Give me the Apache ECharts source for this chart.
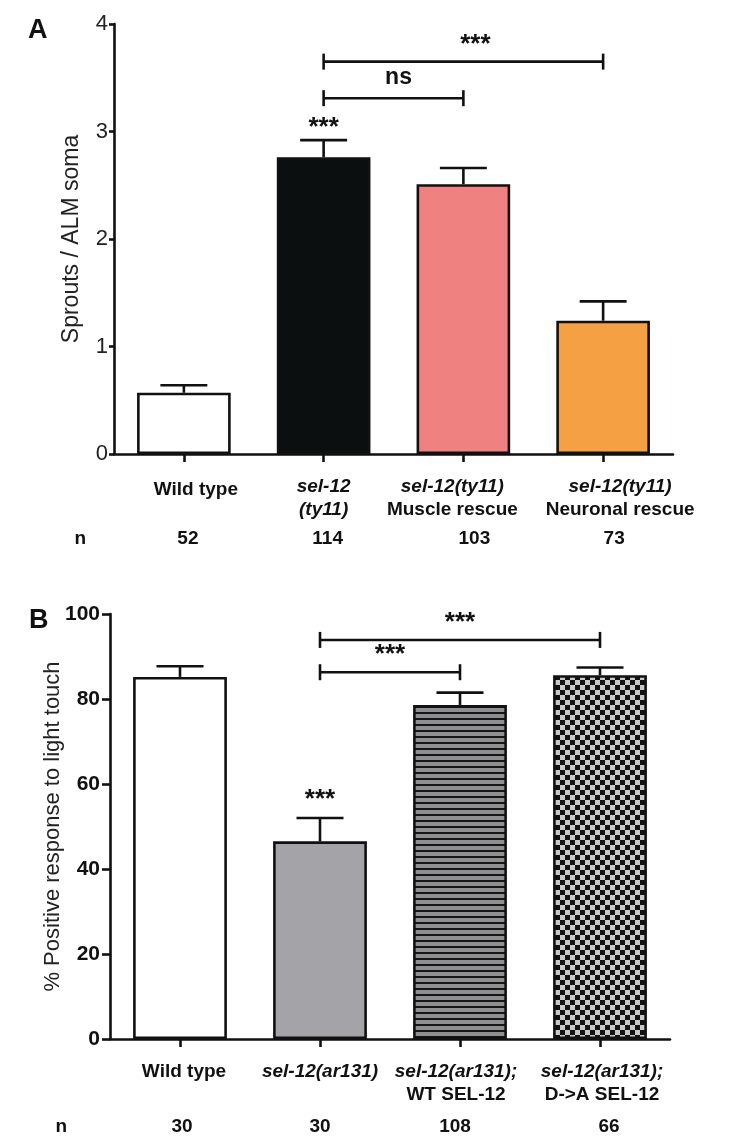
<!DOCTYPE html>
<html><head><meta charset="utf-8">
<script src="https://cdn.jsdelivr.net/npm/echarts@6/dist/echarts.min.js"></script>
<style>html,body{margin:0;padding:0;background:#fff}#c{width:734px;height:1145px}</style>
</head><body><div id="c"></div>
<script>
// ---------- DATA ----------
const categoriesA = ['Wild type', 'sel-12\n(ty11)', 'sel-12(ty11)\nMuscle rescue', 'sel-12(ty11)\nNeuronal rescue'];
const meansA = [0.57, 2.76, 2.51, 1.24];
const semA = [0.07, 0.16, 0.15, 0.18];
const nA = [52, 114, 103, 73];
const starsA = ['', '***', '', ''];
const bracketsA = [[1, 3, 3.65, '***'], [1, 2, 3.31, 'ns']];
const yTicksA = [0, 1, 2, 3, 4];
const yNameA = 'Sprouts / ALM soma';

const categoriesB = ['Wild type', 'sel-12(ar131)', 'sel-12(ar131);\nWT SEL-12', 'sel-12(ar131);\nD->A SEL-12'];
const meansB = [85.2, 46.5, 78.6, 85.6];
const semB = [2.5, 5.5, 2.9, 1.8];
const nB = [30, 30, 108, 66];
const starsB = ['', '***', '', ''];
const bracketsB = [[1, 3, 93.9, '***'], [1, 2, 86.3, '***']];
const yTicksB = [0, 20, 40, 60, 80, 100];
const yNameB = '% Positive response to light touch';

// ---------- STYLE ----------
const FONT = "'Liberation Sans', Arial, Helvetica, sans-serif";
const INK = '#111';
const labelShiftA = [12, 0, -11, 17];
const labelDropA = [6, 0, 0, 0];
const nShiftA = [4, 4, 11, 11];
const labelShiftB = [4, 0, -4, 2];
const labelDropB = [0, 0, 0, 0];
const nShiftB = [2, 0, -5, 9];
const bracketTextShiftA = [12, 5];
const bracketTextShiftB = [0, 0];

function stripes() {
  const c = document.createElement('canvas'); c.width = 8; c.height = 6;
  const g = c.getContext('2d');
  g.fillStyle = '#8f8f92'; g.fillRect(0, 0, 8, 6);
  g.fillStyle = '#161616'; g.fillRect(0, 4, 8, 2);
  return c;
}
function checker() {
  const c = document.createElement('canvas'); c.width = 10; c.height = 10;
  const g = c.getContext('2d');
  g.fillStyle = '#c9c9c9'; g.fillRect(0, 0, 10, 10);
  g.fillStyle = '#121212'; g.fillRect(0, 0, 5, 5); g.fillRect(5, 5, 5, 5);
  return c;
}
const colorsA = ['#ffffff', '#0b0f0f', '#ef8181', '#f5a143'];
const colorsB = ['#ffffff', '#a4a4a8', { image: stripes(), repeat: 'repeat' }, { image: checker(), repeat: 'repeat' }];

function pad(shift, drop) {
  return [drop || 0, shift < 0 ? -2 * shift : 0, 0, shift > 0 ? 2 * shift : 0];
}
function catRich(shifts, drops, size, lh) {
  const r = {};
  shifts.forEach((s, k) => {
    r['i' + k] = { fontFamily: FONT, fontSize: size, fontWeight: 'bold', fontStyle: 'italic', color: INK, lineHeight: lh, padding: pad(s, drops[k]) };
    r['b' + k] = { fontFamily: FONT, fontSize: size, fontWeight: 'bold', color: INK, lineHeight: lh, padding: pad(s, drops[k]) };
  });
  return r;
}
function catFmt(value, idx) {
  return value.split('\n').map(l => '{' + (/sel-12|\(ty11\)/.test(l) ? 'i' : 'b') + idx + '|' + l + '}').join('\n');
}
function nRich(shifts, size) {
  const r = {};
  shifts.forEach((s, k) => { r['n' + k] = { fontFamily: FONT, fontSize: size, fontWeight: 'bold', color: INK, padding: pad(s, 0) }; });
  return r;
}
function nFmt(value, idx) { return '{n' + idx + '|' + value + '}'; }

function errRender(stars, starGap) {
  return function (params, api) {
    const x = api.value(0);
    const p0 = api.coord([x, api.value(1)]);
    const p1 = api.coord([x, api.value(2)]);
    const half = api.size([1, 0])[0] * 0.168;
    const st = { stroke: INK, lineWidth: 2.6 };
    const ch = [
      { type: 'line', shape: { x1: p0[0], y1: p0[1], x2: p1[0], y2: p1[1] }, style: st },
      { type: 'line', shape: { x1: p1[0] - half, y1: p1[1], x2: p1[0] + half, y2: p1[1] }, style: st }
    ];
    const s = stars[params.dataIndex];
    if (s) ch.push({ type: 'text', style: { text: s, x: p1[0], y: p1[1] - starGap, align: 'center', verticalAlign: 'middle', font: 'bold 26px ' + FONT, fill: INK } });
    return { type: 'group', children: ch };
  };
}
function bracketRender(brackets, textShift) {
  return function (params, api) {
    const b = brackets[params.dataIndex];
    const a = api.coord([b[0], b[2]]);
    const c = api.coord([b[1], b[2]]);
    const st = { stroke: INK, lineWidth: 2.6 };
    const isStar = b[3].indexOf('*') >= 0;
    return { type: 'group', children: [
      { type: 'line', shape: { x1: a[0], y1: a[1], x2: c[0], y2: c[1] }, style: st },
      { type: 'line', shape: { x1: a[0], y1: a[1] - 8, x2: a[0], y2: a[1] + 8 }, style: st },
      { type: 'line', shape: { x1: c[0], y1: c[1] - 8, x2: c[0], y2: c[1] + 8 }, style: st },
      { type: 'text', style: { text: b[3], x: (a[0] + c[0]) / 2 + textShift[params.dataIndex], y: a[1] - (isStar ? 17 : 21), align: 'center', verticalAlign: 'middle', font: 'bold ' + (isStar ? 26 : 23) + 'px ' + FONT, fill: INK } }
    ] };
  };
}

const axisLine = { show: true, lineStyle: { color: INK, width: 2.6 } };

const option = {
  animation: false,
  backgroundColor: '#ffffff',
  graphic: [
    { type: 'text', left: 28, top: 17, style: { text: 'A', font: 'bold 27px ' + FONT, fill: INK } },
    { type: 'text', left: 29, top: 607, style: { text: 'B', font: 'bold 27px ' + FONT, fill: INK } }
  ],
  grid: [
    { left: 114, right: 61, top: 24, height: 430 },
    { left: 110, right: 64, top: 614, height: 425 }
  ],
  xAxis: [
    { gridIndex: 0, type: 'category', data: categoriesA, axisLine: axisLine,
      axisTick: { show: true, alignWithLabel: true, length: 8, lineStyle: { color: INK, width: 2.6 } },
      axisLabel: { interval: 0, margin: 21, formatter: catFmt, rich: catRich(labelShiftA, labelDropA, 19, 23) } },
    { gridIndex: 0, type: 'category', data: nA.map(String), position: 'bottom', offset: 85,
      axisLine: { show: false }, axisTick: { show: false },
      axisLabel: { interval: 0, margin: 0, verticalAlign: 'middle', formatter: nFmt, rich: nRich(nShiftA, 19) },
      name: 'n', nameLocation: 'start', nameGap: 28, nameMoveOverlap: false,
      nameTextStyle: { fontFamily: FONT, fontSize: 19, fontWeight: 'bold', color: INK, verticalAlign: 'middle' } },
    { gridIndex: 1, type: 'category', data: categoriesB, axisLine: axisLine,
      axisTick: { show: true, alignWithLabel: true, length: 8, lineStyle: { color: INK, width: 2.6 } },
      axisLabel: { interval: 0, margin: 21, formatter: catFmt, rich: catRich(labelShiftB, labelDropB, 19, 23) } },
    { gridIndex: 1, type: 'category', data: nB.map(String), position: 'bottom', offset: 88,
      axisLine: { show: false }, axisTick: { show: false },
      axisLabel: { interval: 0, margin: 0, verticalAlign: 'middle', formatter: nFmt, rich: nRich(nShiftB, 19) },
      name: 'n', nameLocation: 'start', nameGap: 43, nameMoveOverlap: false,
      nameTextStyle: { fontFamily: FONT, fontSize: 19, fontWeight: 'bold', color: INK, verticalAlign: 'middle' } }
  ],
  yAxis: [
    { gridIndex: 0, type: 'value', min: yTicksA[0], max: yTicksA[yTicksA.length - 1], interval: yTicksA[1] - yTicksA[0],
      splitLine: { show: false }, axisLine: axisLine,
      axisTick: { show: true, length: 5, lineStyle: { color: INK, width: 2.6 } },
      axisLabel: { margin: 6, fontFamily: FONT, fontSize: 22, color: '#222' },
      name: yNameA, nameLocation: 'middle', nameRotate: 90, nameGap: 31, nameMoveOverlap: false,
      nameTextStyle: { fontFamily: FONT, fontSize: 23, color: '#222' } },
    { gridIndex: 1, type: 'value', min: yTicksB[0], max: yTicksB[yTicksB.length - 1], interval: yTicksB[1] - yTicksB[0],
      splitLine: { show: false }, axisLine: axisLine,
      axisTick: { show: true, length: 8, lineStyle: { color: INK, width: 2.6 } },
      axisLabel: { margin: 10, fontFamily: FONT, fontSize: 21, fontWeight: 'bold', color: INK },
      name: yNameB, nameLocation: 'middle', nameRotate: 90, nameGap: 46, nameMoveOverlap: false,
      nameTextStyle: { fontFamily: FONT, fontSize: 22, color: '#222' } }
  ],
  series: [
    { type: 'bar', xAxisIndex: 0, yAxisIndex: 0, barWidth: '67%',
      data: meansA.map((v, i) => ({ value: v, itemStyle: { color: colorsA[i] } })),
      itemStyle: { borderColor: INK, borderWidth: 2.6 } },
    { type: 'custom', xAxisIndex: 0, yAxisIndex: 0, z: 5, clip: false,
      data: meansA.map((m, i) => [i, m, m + semA[i]]), renderItem: errRender(starsA, 12) },
    { type: 'custom', xAxisIndex: 0, yAxisIndex: 0, z: 5, clip: false,
      data: bracketsA.map(b => [b[0], b[1], b[2]]), encode: { x: [0, 1], y: 2 }, renderItem: bracketRender(bracketsA, bracketTextShiftA) },
    { type: 'bar', xAxisIndex: 2, yAxisIndex: 1, barWidth: '67%',
      data: meansB.map((v, i) => ({ value: v, itemStyle: { color: colorsB[i] } })),
      itemStyle: { borderColor: INK, borderWidth: 2.6 } },
    { type: 'custom', xAxisIndex: 2, yAxisIndex: 1, z: 5, clip: false,
      data: meansB.map((m, i) => [i, m, m + semB[i]]), renderItem: errRender(starsB, 18) },
    { type: 'custom', xAxisIndex: 2, yAxisIndex: 1, z: 5, clip: false,
      data: bracketsB.map(b => [b[0], b[1], b[2]]), encode: { x: [0, 1], y: 2 }, renderItem: bracketRender(bracketsB, bracketTextShiftB) }
  ]
};
const chart = echarts.init(document.getElementById('c'), null, { renderer: 'canvas' });
chart.setOption(option);
</script></body></html>
